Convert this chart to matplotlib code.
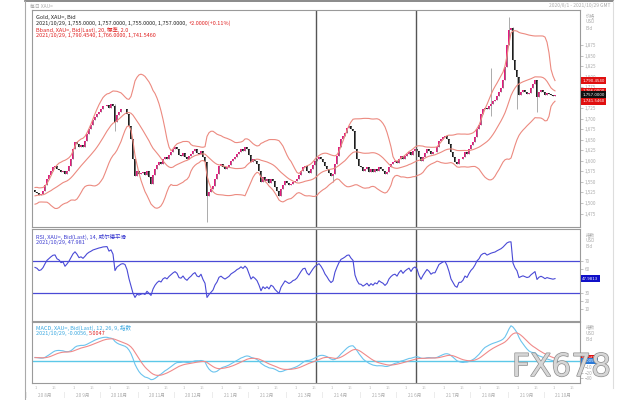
import numpy as np
import pandas as pd
import matplotlib
matplotlib.use('Agg')
import matplotlib.pyplot as plt
import matplotlib.patheffects as pe
import matplotlib.transforms as mtransforms

plt.rcParams['font.family'] = ['Noto Sans CJK SC', 'DejaVu Sans']

# closes before the visible window (only used to warm up the indicators)
closes_before = [1495, 1502, 1488, 1480, 1494, 1510, 1505, 1498, 1515, 1522,
                 1508, 1500, 1512, 1525, 1518, 1530, 1520, 1512, 1505, 1515,
                 1528, 1535, 1522, 1518, 1525]

# daily closes of the visible window
closes = [1526, 1524, 1519, 1521, 1528, 1542, 1557, 1566, 1576, 1585,
          1587, 1580, 1578, 1573, 1576, 1568, 1576, 1587, 1604, 1627,
          1644, 1639, 1632, 1637, 1634, 1646, 1663, 1675, 1684, 1696,
          1703, 1710, 1717, 1722, 1729, 1731, 1733, 1726, 1736, 1729,
          1693, 1708, 1715, 1722, 1724, 1722, 1710, 1682, 1651, 1604,
          1564, 1576, 1568, 1571, 1573, 1566, 1576, 1561, 1545, 1566,
          1580, 1590, 1597, 1592, 1604, 1609, 1604, 1613, 1620, 1627,
          1632, 1627, 1613, 1611, 1618, 1609, 1604, 1611, 1616, 1623,
          1627, 1618, 1616, 1623, 1609, 1597, 1517, 1526, 1533, 1540,
          1557, 1568, 1587, 1592, 1585, 1580, 1585, 1590, 1599, 1604,
          1609, 1616, 1620, 1627, 1623, 1632, 1627, 1613, 1597, 1604,
          1599, 1592, 1576, 1550, 1561, 1552, 1557, 1547, 1557, 1552,
          1538, 1528, 1517, 1533, 1542, 1552, 1547, 1542, 1545, 1550,
          1552, 1557, 1566, 1576, 1585, 1587, 1576, 1571, 1580, 1590,
          1599, 1604, 1609, 1604, 1597, 1587, 1580, 1571, 1564, 1568,
          1592, 1611, 1632, 1651, 1658, 1667, 1679, 1682, 1675, 1670,
          1627, 1604, 1587, 1585, 1576, 1580, 1585, 1573, 1580, 1573,
          1580, 1576, 1585, 1580, 1576, 1568, 1573, 1585, 1592, 1597,
          1599, 1594, 1604, 1611, 1604, 1611, 1616, 1620, 1613, 1623,
          1627, 1623, 1609, 1599, 1609, 1618, 1627, 1623, 1616, 1620,
          1620, 1632, 1646, 1651, 1656, 1658, 1651, 1639, 1620, 1609,
          1597, 1592, 1604, 1604, 1609, 1620, 1616, 1627, 1637, 1644,
          1656, 1675, 1686, 1710, 1722, 1726, 1722, 1729, 1736, 1741,
          1745, 1755, 1764, 1774, 1792, 1823, 1875, 1910, 1915, 1840,
          1816, 1800, 1757, 1764, 1769, 1764, 1759, 1762, 1774, 1783,
          1792, 1752, 1764, 1769, 1764, 1757, 1762, 1759, 1757, 1755,
          1757]
first_open = 1530

# long wicks visible on the chart
high_idx = [40, 228, 237, 239]
high_val = [1735, 1821, 1941, 1918]
low_idx = [40, 86, 149, 228, 241, 251]
low_val = [1670, 1455, 1550, 1706, 1722, 1715]

month_labels = ['20 8月', '20 9月', '20 10月', '20 11月', '20 12月', '21 1月', '21 2月',
                '21 3月', '21 4月', '21 5月', '21 6月', '21 7月', '21 8月', '21 9月', '21 10月']
month_pos = [5, 24, 42, 61, 79, 98, 116, 135, 153, 172, 190, 209, 227, 246, 264]
period_breaks = [140.5, 190.5]

# indicators
full = pd.Series(closes_before + closes, dtype=float)
mid = full.rolling(20).mean()
sd = full.rolling(20).std(ddof=0)
upper = mid + 2 * sd
lower = mid - 2 * sd

delta = full.diff()
gain = delta.clip(lower=0).ewm(alpha=1 / 14, adjust=False).mean()
loss = (-delta.clip(upper=0)).ewm(alpha=1 / 14, adjust=False).mean()
rsi = 100 - 100 / (1 + gain / loss)

macd = full.ewm(span=12, adjust=False).mean() - full.ewm(span=26, adjust=False).mean()
signal = macd.ewm(span=9, adjust=False).mean()

n0 = len(closes_before)
mid, upper, lower = mid[n0:].values, upper[n0:].values, lower[n0:].values
rsi, macd, signal = rsi[n0:].values, macd[n0:].values, signal[n0:].values

c = np.array(closes, dtype=float)
o = np.concatenate([[first_open], c[:-1]])
h = np.maximum(o, c)
l = np.minimum(o, c)
h[high_idx] = high_val
l[low_idx] = low_val
x = np.arange(len(c))

fig = plt.figure(figsize=(6.4, 4.0), dpi=100)
fig.patch.set_facecolor('white')


def px_axes(x0, y0, x1, y1):
    return fig.add_axes([x0 / 640, 1 - y1 / 400, (x1 - x0) / 640, (y1 - y0) / 400])


# outer frame and top bar
fig.add_artist(plt.Line2D([25 / 640, 613 / 640], [1 - 1 / 400, 1 - 1 / 400], color='#777777', lw=1.2))
fig.add_artist(plt.Line2D([25 / 640, 25 / 640], [0, 1 - 1 / 400], color='#aaaaaa', lw=0.8))
fig.add_artist(plt.Line2D([613 / 640, 613 / 640], [0.03, 1 - 1 / 400], color='#dddddd', lw=0.8))
fig.text(30 / 640, 1 - 6 / 400, '每日 XAU=', fontsize=3.5, color='#aaaaaa', va='center')
fig.text(610 / 640, 1 - 6 / 400, '2020/8/1 - 2021/10/29 GMT', fontsize=3.5, color='#aaaaaa',
         va='center', ha='right')

ax = px_axes(32, 10, 580, 227)
ax_rsi = px_axes(32, 229, 580, 321)
ax_macd = px_axes(32, 322, 580, 383)

for a in (ax, ax_rsi, ax_macd):
    a.set_xlim(-1.5, 272.5)
    a.set_xticks([])
    for s in a.spines.values():
        s.set_color('#9a9a9a')
        s.set_linewidth(0.8)
    a.yaxis.tick_right()
    a.tick_params(axis='y', labelsize=3.3, colors='#aaaaaa', length=2, width=0.5, pad=1.5)
    for b in period_breaks:
        a.axvline(b, color='#555555', lw=1.0)

# candles
up = c >= o
ax.vlines(x, l, h, color='#8a8a8a', lw=0.5)
body = np.maximum(np.abs(c - o), 1.2)
ax.bar(x[up], body[up], bottom=np.minimum(o, c)[up], width=0.7, color='#e8197f', lw=0)
ax.bar(x[~up], body[~up], bottom=np.minimum(o, c)[~up], width=0.7, color='#1e1e1e', lw=0)

band_col = '#ec8a80'
ax.plot(x, upper, color=band_col, lw=0.8)
ax.plot(x, mid, color=band_col, lw=0.8)
ax.plot(x, lower, color=band_col, lw=0.8)
ax.set_ylim(1443, 1958)
ax.set_yticks(np.arange(1475, 1900, 25))
ax.set_yticklabels([f'{v:,}' for v in range(1475, 1900, 25)])
ax.text(1.01, 0.985, '价格\nUSD\nBid', transform=ax.transAxes, fontsize=3.3, color='#aaaaaa',
        va='top', ha='left', linespacing=1.3)


def value_box(a, v, fc, txt):
    a.annotate(txt, xy=(1, v), xycoords=('axes fraction', 'data'), xytext=(1.5, 0),
               textcoords='offset points', fontsize=2.8, color='white', va='center', ha='left',
               family='DejaVu Sans',
               bbox=dict(boxstyle='square,pad=0.35', fc=fc, ec='none'))


value_box(ax, upper[-1], '#e01010', f'{upper[-1]:,.4f}')
value_box(ax, mid[-1], '#e01010', f'{mid[-1]:,.4f}')
value_box(ax, lower[-1], '#e01010', f'{lower[-1]:,.4f}')
value_box(ax, c[-1], '#111111', f'{c[-1]:,.4f}')

fs = 4.0
ax.text(0.008, 0.975, 'Gold, XAU=, Bid', transform=ax.transAxes, fontsize=fs, color='#222222', va='top')
t = ax.text(0.008, 0.948,
            f'2021/10/29, {o[-1]:,.4f}, {h[-1]:,.4f}, {l[-1]:,.4f}, {c[-1]:,.4f}, ',
            transform=ax.transAxes, fontsize=fs, color='#222222', va='top')
ax.annotate(f'{c[-1] - o[-1]:+.4f}({(c[-1] - o[-1]) / o[-1] * 100:+.2f}%)', xy=(1, 0),
            xycoords=t, fontsize=fs, color='#e02020', va='bottom', ha='left')
ax.text(0.008, 0.921, 'Bband, XAU=, Bid(Last), 20, 標準, 2.0', transform=ax.transAxes,
        fontsize=fs, color='#e02020', va='top')
ax.text(0.008, 0.894, f'2021/10/29, {upper[-1]:,.4f}, {mid[-1]:,.4f}, {lower[-1]:,.4f}',
        transform=ax.transAxes, fontsize=fs, color='#e02020', va='top')

# RSI
rsi_col = '#4a4ad6'
ax_rsi.plot(x, rsi, color=rsi_col, lw=0.8)
ax_rsi.axhline(70, color=rsi_col, lw=0.9)
ax_rsi.axhline(30, color=rsi_col, lw=0.9)
ax_rsi.set_ylim(-5, 110)
ax_rsi.set_yticks([10, 20, 30, 60, 70])
ax_rsi.text(1.01, 0.97, '指数\nUSD\nBid', transform=ax_rsi.transAxes, fontsize=3.3, color='#aaaaaa',
            va='top', ha='left', linespacing=1.3)
value_box(ax_rsi, rsi[-1], '#1010c8', f'{rsi[-1]:.4f}')
ax_rsi.text(0.008, 0.95, 'RSI, XAU=, Bid(Last), 14, 威尔德平滑', transform=ax_rsi.transAxes,
            fontsize=fs, color='#3a3ad0', va='top')
ax_rsi.text(0.008, 0.885, f'2021/10/29, {rsi[-1]:.3f}', transform=ax_rsi.transAxes,
            fontsize=fs, color='#3a3ad0', va='top')

# MACD
macd_col = '#6cc4ee'
sig_col = '#f08a8a'
ax_macd.axhline(0, color='#5cc8e8', lw=1.0)
ax_macd.plot(x, macd, color=macd_col, lw=0.8)
ax_macd.plot(x, signal, color=sig_col, lw=0.8)
ax_macd.set_ylim(-38, 68)
ax_macd.set_yticks([-30, -20, -10])
ax_macd.text(1.01, 0.96, '指数\nUSD\nBid', transform=ax_macd.transAxes, fontsize=3.3,
             color='#aaaaaa', va='top', ha='left', linespacing=1.3)
value_box(ax_macd, signal[-1], '#e01010', f'{signal[-1]:.4f}')
value_box(ax_macd, macd[-1], '#2a7ad8', f'{macd[-1]:.4f}')
ax_macd.text(0.008, 0.95, 'MACD, XAU=, Bid(Last), 12, 26, 9, 指数', transform=ax_macd.transAxes,
             fontsize=fs, color='#3aa8e0', va='top')
t2 = ax_macd.text(0.008, 0.85, f'2021/10/29, {macd[-1]:.4f}, ', transform=ax_macd.transAxes,
                  fontsize=fs, color='#3aa8e0', va='top')
ax_macd.annotate(f'{signal[-1]:.4f}', xy=(1, 0), xycoords=t2, fontsize=fs, color='#e02020',
                 va='bottom', ha='left')

# date axis: two rows below the MACD panel
trans = mtransforms.blended_transform_factory(ax_macd.transData, fig.transFigure)
for p, lbl in zip(month_pos, month_labels):
    ax_macd.text(p, 1 - 395 / 400, lbl, transform=trans, fontsize=3.3, color='#aaaaaa',
                 ha='center', va='center')
    ax_macd.text(p - 9.25, 1 - 395 / 400, '|', transform=trans, fontsize=3.3, color='#bbbbbb',
                 ha='center', va='center')
    ax_macd.text(p - 4.6, 1 - 388 / 400, '1', transform=trans, fontsize=3.0, color='#bbbbbb',
                 ha='center', va='center')
    ax_macd.text(p + 4.6, 1 - 388 / 400, '16', transform=trans, fontsize=3.0, color='#bbbbbb',
                 ha='center', va='center')

fig.text(512 / 640, 1 - 376 / 400, 'FX678', fontsize=22.5, color='#d6d6d6', family='DejaVu Sans',
         ha='left', va='baseline',
         path_effects=[pe.withStroke(linewidth=1.0, foreground='#8c8c8c')])

fig.savefig('out.png', dpi=100)
